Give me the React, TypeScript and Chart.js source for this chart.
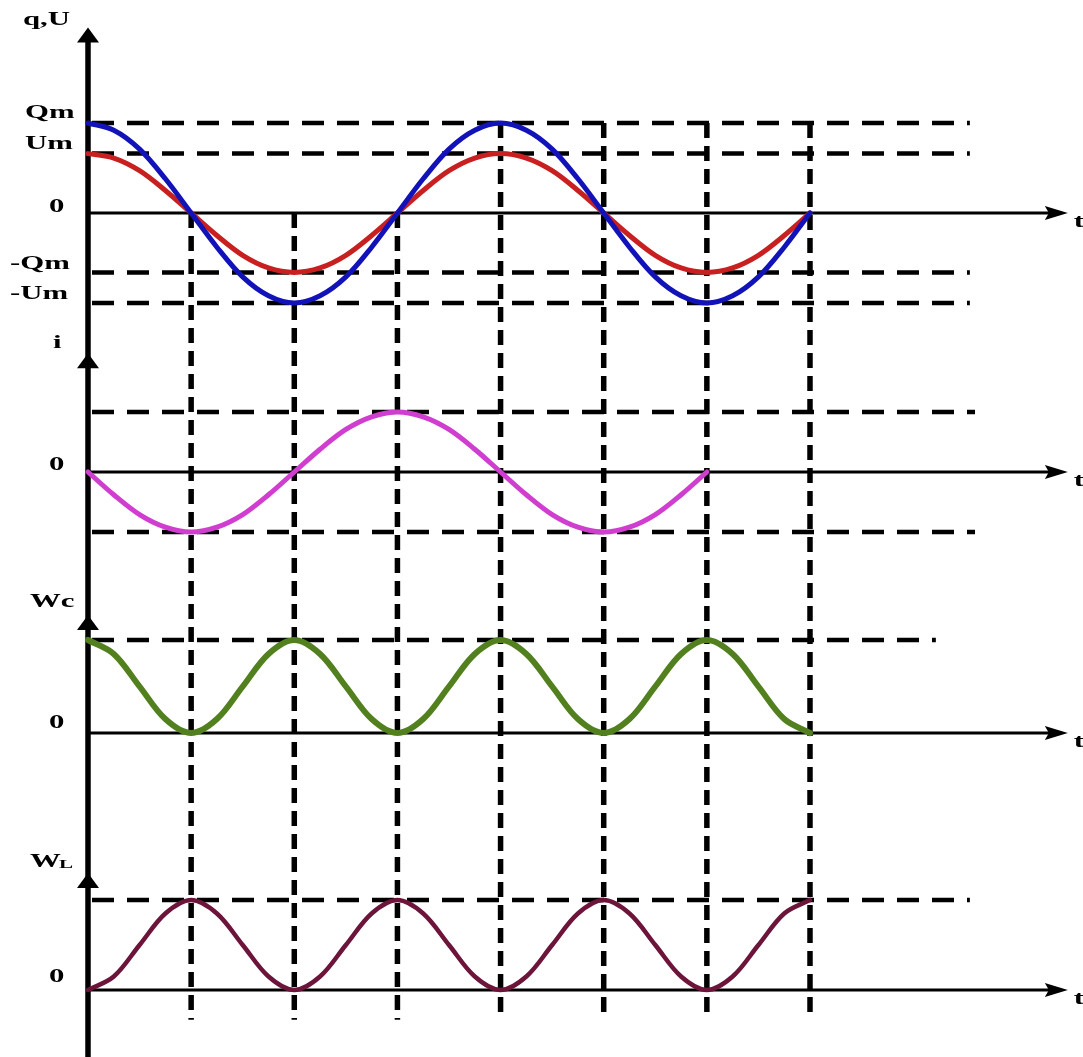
import React, { useEffect, useRef } from 'react';
import { Chart, registerables } from 'chart.js';

Chart.register(...registerables);

// ---- data (time in quarter-periods) ----
const T = [0, 0.25, 0.5, 0.75, 1, 1.25, 1.5, 1.75, 2, 2.25, 2.5, 2.75, 3, 3.25, 3.5, 3.75, 4, 4.25, 4.5, 4.75, 5, 5.25, 5.5, 5.75, 6, 6.25, 6.5, 6.75, 7];
const Q_VALUES = [1, 0.92, 0.71, 0.38, 0, -0.38, -0.71, -0.92, -1, -0.92, -0.71, -0.38, 0, 0.38, 0.71, 0.92, 1, 0.92, 0.71, 0.38, 0, -0.38, -0.71, -0.92, -1, -0.92, -0.71, -0.38, 0];
const U_VALUES = [0.66, 0.61, 0.47, 0.25, 0, -0.25, -0.47, -0.61, -0.66, -0.61, -0.47, -0.25, 0, 0.25, 0.47, 0.61, 0.66, 0.61, 0.47, 0.25, 0, -0.25, -0.47, -0.61, -0.66, -0.61, -0.47, -0.25, 0];
const I_VALUES = [0, -0.38, -0.71, -0.92, -1, -0.92, -0.71, -0.38, 0, 0.38, 0.71, 0.92, 1, 0.92, 0.71, 0.38, 0, -0.38, -0.71, -0.92, -1, -0.92, -0.71, -0.38, 0];
const WC_VALUES = [1, 0.85, 0.5, 0.15, 0, 0.15, 0.5, 0.85, 1, 0.85, 0.5, 0.15, 0, 0.15, 0.5, 0.85, 1, 0.85, 0.5, 0.15, 0, 0.15, 0.5, 0.85, 1, 0.85, 0.5, 0.15, 0];
const WL_VALUES = [0, 0.15, 0.5, 0.85, 1, 0.85, 0.5, 0.15, 0, 0.15, 0.5, 0.85, 1, 0.85, 0.5, 0.15, 0, 0.15, 0.5, 0.85, 1, 0.85, 0.5, 0.15, 0, 0.15, 0.5, 0.85, 1];
const QUARTER_MARKS = [1, 2, 3, 4, 5, 6, 7];

// ---- labels ----
const PANEL1_LABELS = [
  { text: 'q,U', value: 2.14, x: 23, dy: 0 },
  { text: 'Qm', value: 1, x: 25, dy: -10 },
  { text: 'Um', value: 0.66, x: 25, dy: -10 },
  { text: '0', value: 0, x: 49, dy: -6 },
  { text: '-Qm', value: -0.66, x: 10, dy: -8 },
  { text: '-Um', value: -1, x: 10, dy: -9 },
];

// ---- layout / style (not data) ----
const W = 1083;
const H = 1057;
const PANELS: Record<string, { zero: number; unit: number }> = {
  y1: { zero: 213, unit: 90 },
  y2: { zero: 472, unit: 60 },
  y3: { zero: 733, unit: 93 },
  y4: { zero: 990, unit: 90 },
};

const H_GUIDES = [
  { axis: 'y1', value: 1, end: 8.55 },
  { axis: 'y1', value: 0.66, end: 8.55 },
  { axis: 'y1', value: -0.66, end: 8.55 },
  { axis: 'y1', value: -1, end: 8.55 },
  { axis: 'y2', value: 1, end: 8.6 },
  { axis: 'y2', value: -1, end: 8.6 },
  { axis: 'y3', value: 1, end: 8.22 },
  { axis: 'y4', value: 1, end: 8.55 },
];

const STRETCH = 1.62;

function drawText(ctx: CanvasRenderingContext2D, text: string, x: number, y: number, size = 19) {
  ctx.save();
  ctx.font = `bold ${size}px "Liberation Serif", "Times New Roman", serif`;
  ctx.textBaseline = 'middle';
  ctx.textAlign = 'left';
  ctx.fillStyle = '#000';
  ctx.translate(x, y);
  ctx.scale(STRETCH, 1);
  ctx.fillText(text, 0, 0);
  ctx.restore();
}

const guidesPlugin = {
  id: 'guides',
  beforeDraw(chart: any) {
    const ctx = chart.ctx as CanvasRenderingContext2D;
    ctx.save();
    ctx.fillStyle = '#fff';
    ctx.fillRect(0, 0, chart.width, chart.height);
    ctx.restore();
  },
  beforeDatasetsDraw(chart: any) {
    const ctx = chart.ctx as CanvasRenderingContext2D;
    const sc = chart.scales;
    const X = (t: number) => sc.x.getPixelForValue(t);
    const Y = (id: string, v: number) => sc[id].getPixelForValue(v);
    const x0 = X(0);
    ctx.save();
    ctx.strokeStyle = '#000';
    ctx.fillStyle = '#000';
    ctx.lineCap = 'butt';

    // horizontal dashed guides
    ctx.lineWidth = 4.5;
    ctx.setLineDash([22, 13]);
    for (const g of H_GUIDES) {
      const y = Y(g.axis, g.value);
      ctx.beginPath();
      ctx.moveTo(x0 + 4, y);
      ctx.lineTo(X(g.end), y);
      ctx.stroke();
    }

    // vertical dashed guides
    ctx.lineWidth = 5.5;
    ctx.setLineDash([15, 8]);
    for (const t of QUARTER_MARKS) {
      const from = t <= 3 ? Y('y1', 0) : Y('y1', 1);
      const to = Y('y4', -0.33);
      ctx.beginPath();
      ctx.moveTo(X(t), from);
      ctx.lineTo(X(t), to);
      ctx.stroke();
    }
    ctx.setLineDash([]);

    // time axes with arrows
    const tipX = X(9.5);
    ctx.lineWidth = 3;
    for (const id of ['y1', 'y2', 'y3', 'y4']) {
      const y = Y(id, 0);
      ctx.beginPath();
      ctx.moveTo(x0, y);
      ctx.lineTo(tipX - 12, y);
      ctx.stroke();
      ctx.beginPath();
      ctx.moveTo(tipX, y);
      ctx.lineTo(tipX - 23, y - 7);
      ctx.lineTo(tipX - 19, y);
      ctx.lineTo(tipX - 23, y + 7);
      ctx.closePath();
      ctx.fill();
      drawText(ctx, 't', tipX + 6, y + 9, 19);
    }

    // vertical axis
    const arrowTips = [
      { id: 'y1', v: 2.06 },
      { id: 'y2', v: 1.98 },
      { id: 'y3', v: 1.27 },
      { id: 'y4', v: 1.3 },
    ];
    ctx.lineWidth = 5.5;
    ctx.beginPath();
    ctx.moveTo(x0, Y('y1', 2.06) + 8);
    ctx.lineTo(x0, chart.height);
    ctx.stroke();
    for (const a of arrowTips) {
      const y = Y(a.id, a.v);
      ctx.beginPath();
      ctx.moveTo(x0, y);
      ctx.lineTo(x0 - 11, y + 15);
      ctx.lineTo(x0 + 11, y + 15);
      ctx.closePath();
      ctx.fill();
    }

    // labels
    for (const l of PANEL1_LABELS) drawText(ctx, l.text, l.x, Y('y1', l.value) + l.dy);
    drawText(ctx, 'i', 53, Y('y2', 2.15));
    drawText(ctx, '0', 49, Y('y2', 0) - 7);
    drawText(ctx, 'Wc', 30, Y('y3', 1.41));
    drawText(ctx, '0', 49, Y('y3', 0) - 10);
    drawText(ctx, 'W', 30, Y('y4', 1.42));
    drawText(ctx, 'L', 59, Y('y4', 1.42) + 2, 13);
    drawText(ctx, '0', 49, Y('y4', 0) - 13);
    ctx.restore();
  },
};

function toPoints(xs: number[], ys: number[]) {
  return ys.map((y, k) => ({ x: xs[k], y }));
}

function scaleFor(id: string) {
  const p = PANELS[id];
  return { type: 'linear', display: false, min: -(H - p.zero) / p.unit, max: p.zero / p.unit };
}

export default function App() {
  const ref = useRef<HTMLCanvasElement | null>(null);
  useEffect(() => {
    if (!ref.current) return;
    const common = { pointRadius: 0, fill: false, cubicInterpolationMode: 'default', tension: 0.34, clip: false, borderCapStyle: 'round', borderJoinStyle: 'round' };
    const chart = new Chart(ref.current, {
      type: 'line',
      data: {
        datasets: [
          { ...common, label: 'q', data: toPoints(T, Q_VALUES), yAxisID: 'y1', borderColor: 'rgb(18,18,185)', borderWidth: 5 },
          { ...common, label: 'U', data: toPoints(T, U_VALUES), yAxisID: 'y1', borderColor: 'rgb(200,32,32)', borderWidth: 5 },
          { ...common, label: 'i', data: toPoints(T, I_VALUES), yAxisID: 'y2', borderColor: 'rgb(208,62,208)', borderWidth: 5 },
          { ...common, label: 'Wc', data: toPoints(T, WC_VALUES), yAxisID: 'y3', borderColor: 'rgb(82,128,30)', borderWidth: 6 },
          { ...common, label: 'WL', data: toPoints(T, WL_VALUES), yAxisID: 'y4', borderColor: 'rgb(108,20,58)', borderWidth: 4.5 },
        ] as any,
      },
      options: {
        animation: false,
        responsive: false,
        maintainAspectRatio: false,
        events: [],
        layout: { padding: { left: 88, right: W - 810, top: 0, bottom: 0 } },
        plugins: { legend: { display: false }, tooltip: { enabled: false }, title: { display: false } },
        scales: {
          x: { type: 'linear', display: false, min: 0, max: 7 },
          y1: scaleFor('y1'),
          y2: scaleFor('y2'),
          y3: scaleFor('y3'),
          y4: scaleFor('y4'),
        } as any,
      },
      plugins: [guidesPlugin],
    });
    return () => chart.destroy();
  }, []);
  return (
    <div style={{ position: 'absolute', left: 0, top: 0, width: W, height: H, background: '#fff' }}>
      <canvas ref={ref} width={W} height={H} style={{ display: 'block', width: W, height: H }} />
    </div>
  );
}
